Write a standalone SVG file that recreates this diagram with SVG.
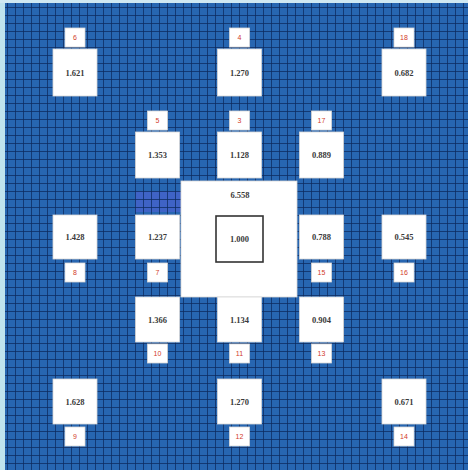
<svg xmlns="http://www.w3.org/2000/svg" width="468" height="470" viewBox="0 0 468 470">
  <defs>
    <pattern id="grid" x="7" y="7" width="8" height="8" patternUnits="userSpaceOnUse">
      <path d="M0 0 H8 M0 0 V8" stroke="#0c2a5e" stroke-width="1.5" fill="none"/>
    </pattern>
  </defs>
  <style>
    .box { fill: #ffffff; stroke: #d8d8d8; stroke-width: 0.8; }
    .lbl { fill: #ffffff; stroke: #d8d8d8; stroke-width: 0.8; }
    .val { font-family: "Liberation Serif", "DejaVu Serif", serif; font-size: 8.5px; font-weight: bold; fill: #3a3a3a; text-anchor: middle; }
    .num { font-family: "Liberation Sans", Arial, sans-serif; font-size: 7px; fill: #d23a2a; text-anchor: middle; }
    .inner { fill: #ffffff; stroke: #333333; stroke-width: 1.6; }
  </style>

  <!-- background grid -->
  <g id="background">
    <rect x="0" y="0" width="468" height="470" fill="#2766b1"/>
    <rect x="135" y="191" width="46" height="21" fill="#3f63c6"/>
    <rect x="0" y="0" width="468" height="470" fill="url(#grid)"/>
    <rect x="0" y="0" width="5" height="470" fill="#bfe3ee"/>
    <rect x="0" y="0" width="468" height="3" fill="#cfe8f2"/>
  </g>

  <!-- central element -->
  <g id="center">
    <rect class="box" x="181" y="181" width="116" height="116"/>
    <text class="val" x="240" y="198">6.558</text>
    <rect class="inner" x="216" y="216" width="47" height="46"/>
    <text class="val" x="239.5" y="242">1.000</text>
  </g>

  <!-- row 1 -->
  <g id="node-6">
    <rect class="lbl" x="65" y="28" width="20" height="19"/>
    <text class="num" x="75" y="40">6</text>
    <rect class="box" x="53" y="49" width="44" height="47"/>
    <text class="val" x="75" y="75.5">1.621</text>
  </g>
  <g id="node-4">
    <rect class="lbl" x="229.5" y="28" width="20" height="19"/>
    <text class="num" x="239.5" y="40">4</text>
    <rect class="box" x="217.5" y="49" width="44" height="47"/>
    <text class="val" x="239.5" y="75.5">1.270</text>
  </g>
  <g id="node-18">
    <rect class="lbl" x="394" y="28" width="20" height="19"/>
    <text class="num" x="404" y="40">18</text>
    <rect class="box" x="382" y="49" width="44" height="47"/>
    <text class="val" x="404" y="75.5">0.682</text>
  </g>

  <!-- row 2 -->
  <g id="node-5">
    <rect class="lbl" x="147.5" y="111" width="20" height="19"/>
    <text class="num" x="157.5" y="123">5</text>
    <rect class="box" x="135.5" y="132" width="44" height="46"/>
    <text class="val" x="157.5" y="158">1.353</text>
  </g>
  <g id="node-3">
    <rect class="lbl" x="229.5" y="111" width="20" height="19"/>
    <text class="num" x="239.5" y="123">3</text>
    <rect class="box" x="217.5" y="132" width="44" height="46"/>
    <text class="val" x="239.5" y="158">1.128</text>
  </g>
  <g id="node-17">
    <rect class="lbl" x="311.5" y="111" width="20" height="19"/>
    <text class="num" x="321.5" y="123">17</text>
    <rect class="box" x="299.5" y="132" width="44" height="46"/>
    <text class="val" x="321.5" y="158">0.889</text>
  </g>

  <!-- row 3 -->
  <g id="node-8">
    <rect class="box" x="53" y="215" width="44" height="44"/>
    <text class="val" x="75" y="240">1.428</text>
    <rect class="lbl" x="65" y="263" width="20" height="19"/>
    <text class="num" x="75" y="275">8</text>
  </g>
  <g id="node-7">
    <rect class="box" x="135.5" y="215" width="44" height="44"/>
    <text class="val" x="157.5" y="240">1.237</text>
    <rect class="lbl" x="147.5" y="263" width="20" height="19"/>
    <text class="num" x="157.5" y="275">7</text>
  </g>
  <g id="node-15">
    <rect class="box" x="299.5" y="215" width="44" height="44"/>
    <text class="val" x="321.5" y="240">0.788</text>
    <rect class="lbl" x="311.5" y="263" width="20" height="19"/>
    <text class="num" x="321.5" y="275">15</text>
  </g>
  <g id="node-16">
    <rect class="box" x="382" y="215" width="44" height="44"/>
    <text class="val" x="404" y="240">0.545</text>
    <rect class="lbl" x="394" y="263" width="20" height="19"/>
    <text class="num" x="404" y="275">16</text>
  </g>

  <!-- row 4 -->
  <g id="node-10">
    <rect class="box" x="135.5" y="297" width="44" height="45"/>
    <text class="val" x="157.5" y="322.5">1.366</text>
    <rect class="lbl" x="147.5" y="344" width="20" height="19"/>
    <text class="num" x="157.5" y="356">10</text>
  </g>
  <g id="node-11">
    <rect class="box" x="217.5" y="297" width="44" height="45"/>
    <text class="val" x="239.5" y="322.5">1.134</text>
    <rect class="lbl" x="229.5" y="344" width="20" height="19"/>
    <text class="num" x="239.5" y="356">11</text>
  </g>
  <g id="node-13">
    <rect class="box" x="299.5" y="297" width="44" height="45"/>
    <text class="val" x="321.5" y="322.5">0.904</text>
    <rect class="lbl" x="311.5" y="344" width="20" height="19"/>
    <text class="num" x="321.5" y="356">13</text>
  </g>

  <!-- row 5 -->
  <g id="node-9">
    <rect class="box" x="53" y="379" width="44" height="45"/>
    <text class="val" x="75" y="404.5">1.628</text>
    <rect class="lbl" x="65" y="427" width="20" height="19"/>
    <text class="num" x="75" y="439">9</text>
  </g>
  <g id="node-12">
    <rect class="box" x="217.5" y="379" width="44" height="45"/>
    <text class="val" x="239.5" y="404.5">1.270</text>
    <rect class="lbl" x="229.5" y="427" width="20" height="19"/>
    <text class="num" x="239.5" y="439">12</text>
  </g>
  <g id="node-14">
    <rect class="box" x="382" y="379" width="44" height="45"/>
    <text class="val" x="404" y="404.5">0.671</text>
    <rect class="lbl" x="394" y="427" width="20" height="19"/>
    <text class="num" x="404" y="439">14</text>
  </g>
</svg>
